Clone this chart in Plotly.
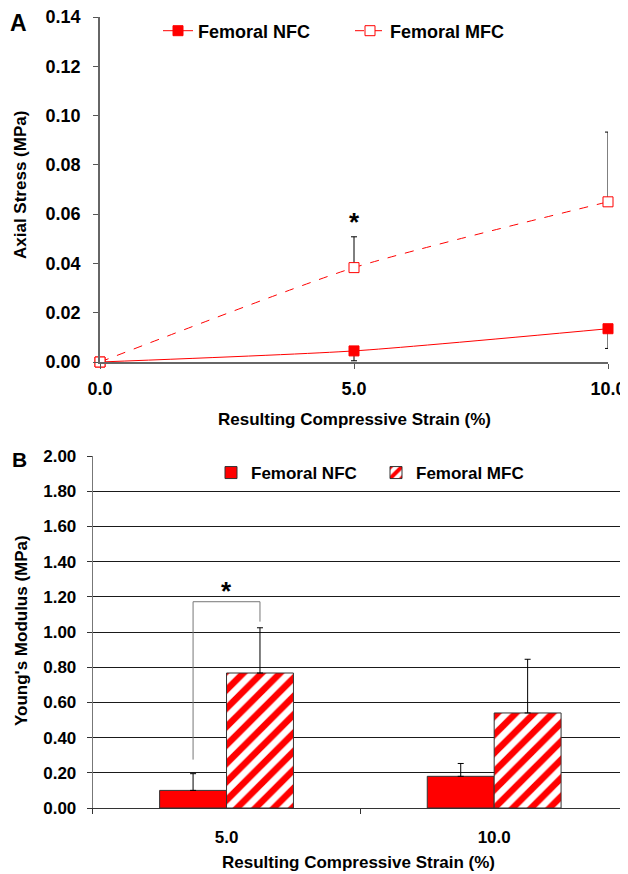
import plotly.graph_objects as go

# ---------------- data ----------------
strain_A = [0, 5, 10]
strain_A_labels = ["0.0", "5.0", "10.0"]
nfc_stress = [0.0, 0.0045, 0.0135]
nfc_stress_err = [0.0, 0.004, 0.008]
mfc_stress = [0.0, 0.0383, 0.065]
mfc_stress_err = [0.0, 0.0125, 0.0283]

strain_B = ["5.0", "10.0"]
nfc_modulus = [0.10, 0.18]
nfc_modulus_err = [0.095, 0.073]
mfc_modulus = [0.767, 0.54]
mfc_modulus_err = [0.257, 0.305]

RED = "#FF0000"
FONT = "Liberation Sans"
# the page body has an 8px margin; the figure is sized so it ends at the window edge
OFF = 8
W, H = 628 - OFF, 874 - OFF
BARGAP = 0.5


def px(x):   # window x pixel -> paper fraction
    return (x - OFF) / W


def py(y):   # window y pixel -> paper fraction (from bottom)
    return 1 - (y - OFF) / H


fig = go.Figure()

# ---------------- Panel A ----------------
fig.add_trace(go.Scatter(
    x=strain_A, y=nfc_stress, name="Femoral NFC", mode="lines+markers",
    line=dict(color=RED, width=1, shape="spline", smoothing=0.6),
    marker=dict(symbol="square", size=10, color=RED, line=dict(color=RED, width=1)),
    error_y=dict(type="data", symmetric=False, array=[0] * 3, arrayminus=nfc_stress_err,
                 color="black", thickness=1, width=3),
    cliponaxis=False, xaxis="x", yaxis="y", legend="legend",
))
fig.add_trace(go.Scatter(
    x=strain_A, y=mfc_stress, name="Femoral MFC", mode="lines+markers",
    line=dict(color=RED, width=1, dash="dash", shape="spline", smoothing=0.6),
    marker=dict(symbol="square", size=10, color="white", line=dict(color=RED, width=1)),
    error_y=dict(type="data", symmetric=False, array=mfc_stress_err, arrayminus=[0] * 3,
                 color="black", thickness=1, width=3),
    cliponaxis=False, xaxis="x", yaxis="y", legend="legend",
))

# ---------------- Panel B ----------------
fig.add_trace(go.Bar(
    x=strain_B, y=nfc_modulus, name="Femoral NFC",
    marker=dict(color=RED, line=dict(color="#333333", width=1)),
    error_y=dict(type="data", symmetric=False, array=nfc_modulus_err, arrayminus=[0, 0],
                 color="black", thickness=1, width=3),
    xaxis="x2", yaxis="y2", legend="legend2",
))
fig.add_trace(go.Bar(
    x=strain_B, y=mfc_modulus, name="Femoral MFC",
    marker=dict(color="white", line=dict(color="#333333", width=1),
                pattern=dict(shape="/", fgcolor=RED, bgcolor="white", fgopacity=1,
                             fillmode="replace", size=13, solidity=0.5)),
    error_y=dict(type="data", symmetric=False, array=mfc_modulus_err, arrayminus=[0, 0],
                 color="black", thickness=1, width=3),
    xaxis="x2", yaxis="y2", legend="legend2",
))

tickfontA = dict(family=FONT, size=18, color="black", weight="bold")
tickfontB = dict(family=FONT, size=17, color="black", weight="bold")

fig.update_layout(
    width=W, height=H, autosize=False,
    margin=dict(l=0, r=0, t=0, b=0, pad=0, autoexpand=False),
    paper_bgcolor="white", plot_bgcolor="white",
    font=dict(family=FONT, color="black", weight="bold"),
    barmode="group", bargap=BARGAP, bargroupgap=0,
    xaxis=dict(domain=[px(100), px(608)], range=[0, 10], anchor="y", automargin=False,
               tickmode="array", tickvals=strain_A, ticktext=strain_A_labels,
               ticks="outside", ticklen=5, tickcolor="#555", showline=True,
               linecolor="#666", linewidth=1.5, showgrid=False, zeroline=False,
               tickfont=tickfontA, ticklabelstandoff=5, ticklabeloverflow="allow"),
    yaxis=dict(domain=[py(362), py(17)], range=[0, 0.14], anchor="x",
               automargin=False,
               dtick=0.02, tickformat=".2f", ticks="outside", ticklen=5,
               tickcolor="#555", showline=True, linecolor="#666", linewidth=1.5,
               showgrid=False, zeroline=False, tickfont=tickfontA, ticklabelstandoff=9,
               ticklabeloverflow="allow"),
    xaxis2=dict(domain=[px(92.7), 1.0], type="category", anchor="y2", automargin=False,
                tickson="boundaries", ticks="outside", ticklen=5, tickcolor="#333",
                showline=True, linecolor="#333", linewidth=1, showgrid=False,
                tickfont=tickfontB, ticklabelstandoff=14, ticklabeloverflow="allow"),
    yaxis2=dict(domain=[py(808), py(456)], range=[0, 2.0], anchor="x2",
                automargin=False,
                dtick=0.2, tickformat=".2f", ticks="outside", ticklen=5, tickcolor="#333",
                showline=True, linecolor="#777", linewidth=1,
                showgrid=True, gridcolor="#1a1a1a", gridwidth=1, zeroline=False,
                tickfont=tickfontB, ticklabelstandoff=7, ticklabeloverflow="allow"),
    legend=dict(orientation="h", x=px(158), xanchor="left", y=py(31),
                yanchor="middle", font=dict(family=FONT, size=18, weight="bold"),
                bgcolor="rgba(0,0,0,0)", entrywidth=147, itemwidth=30,
                traceorder="normal"),
    legend2=dict(orientation="h", x=px(211), xanchor="left", y=py(473),
                 yanchor="middle", font=dict(family=FONT, size=17, weight="bold"),
                 bgcolor="rgba(0,0,0,0)", entrywidth=120, itemwidth=30,
                 traceorder="normal"),
    showlegend=True,
)

# ---------------- annotations ----------------
def pa(text, x, y, size=17, angle=0, xa="center", ya="middle"):
    fig.add_annotation(text=text, x=px(x), y=py(y), xref="paper", yref="paper",
                       showarrow=False, textangle=angle, xanchor=xa, yanchor=ya,
                       font=dict(family=FONT, size=size, color="black", weight="bold"))

pa("A", 18, 8, size=23, ya="top")
pa("B", 19, 459, size=21)
pa("Resulting Compressive Strain (%)", 354, 419)
pa("Resulting Compressive Strain (%)", 358, 862)
pa("Axial Stress (MPa)", 21, 185, angle=-90)
pa("Young's Modulus (MPa)", 21, 631, angle=-90)

# significance star in panel A (above the MFC error bar at 5.0 %)
fig.add_annotation(text="*", x=strain_A[1], y=mfc_stress[1] + mfc_stress_err[1] - 0.001,
                   xref="x", yref="y", showarrow=False, yanchor="bottom",
                   font=dict(family=FONT, size=26, color="black", weight="bold"))

# bracket + star in panel B
bar_w = (1 - BARGAP) / 2
left_x = 0 - bar_w / 2
right_x = 0 + bar_w / 2
top_y = 1.172
left_bottom = nfc_modulus[0] + nfc_modulus_err[0] + 0.08
right_bottom = mfc_modulus[0] + mfc_modulus_err[0] + 0.035
fig.add_shape(type="path", xref="x2", yref="y2",
              path=f"M {left_x},{left_bottom} L {left_x},{top_y} L {right_x},{top_y} L {right_x},{right_bottom}",
              line=dict(color="#777777", width=1))
fig.add_annotation(text="*", x=0, y=top_y - 0.035, xref="x2", yref="y2", showarrow=False,
                   yanchor="bottom",
                   font=dict(family=FONT, size=26, color="black", weight="bold"))

fig.write_html("out.html")
